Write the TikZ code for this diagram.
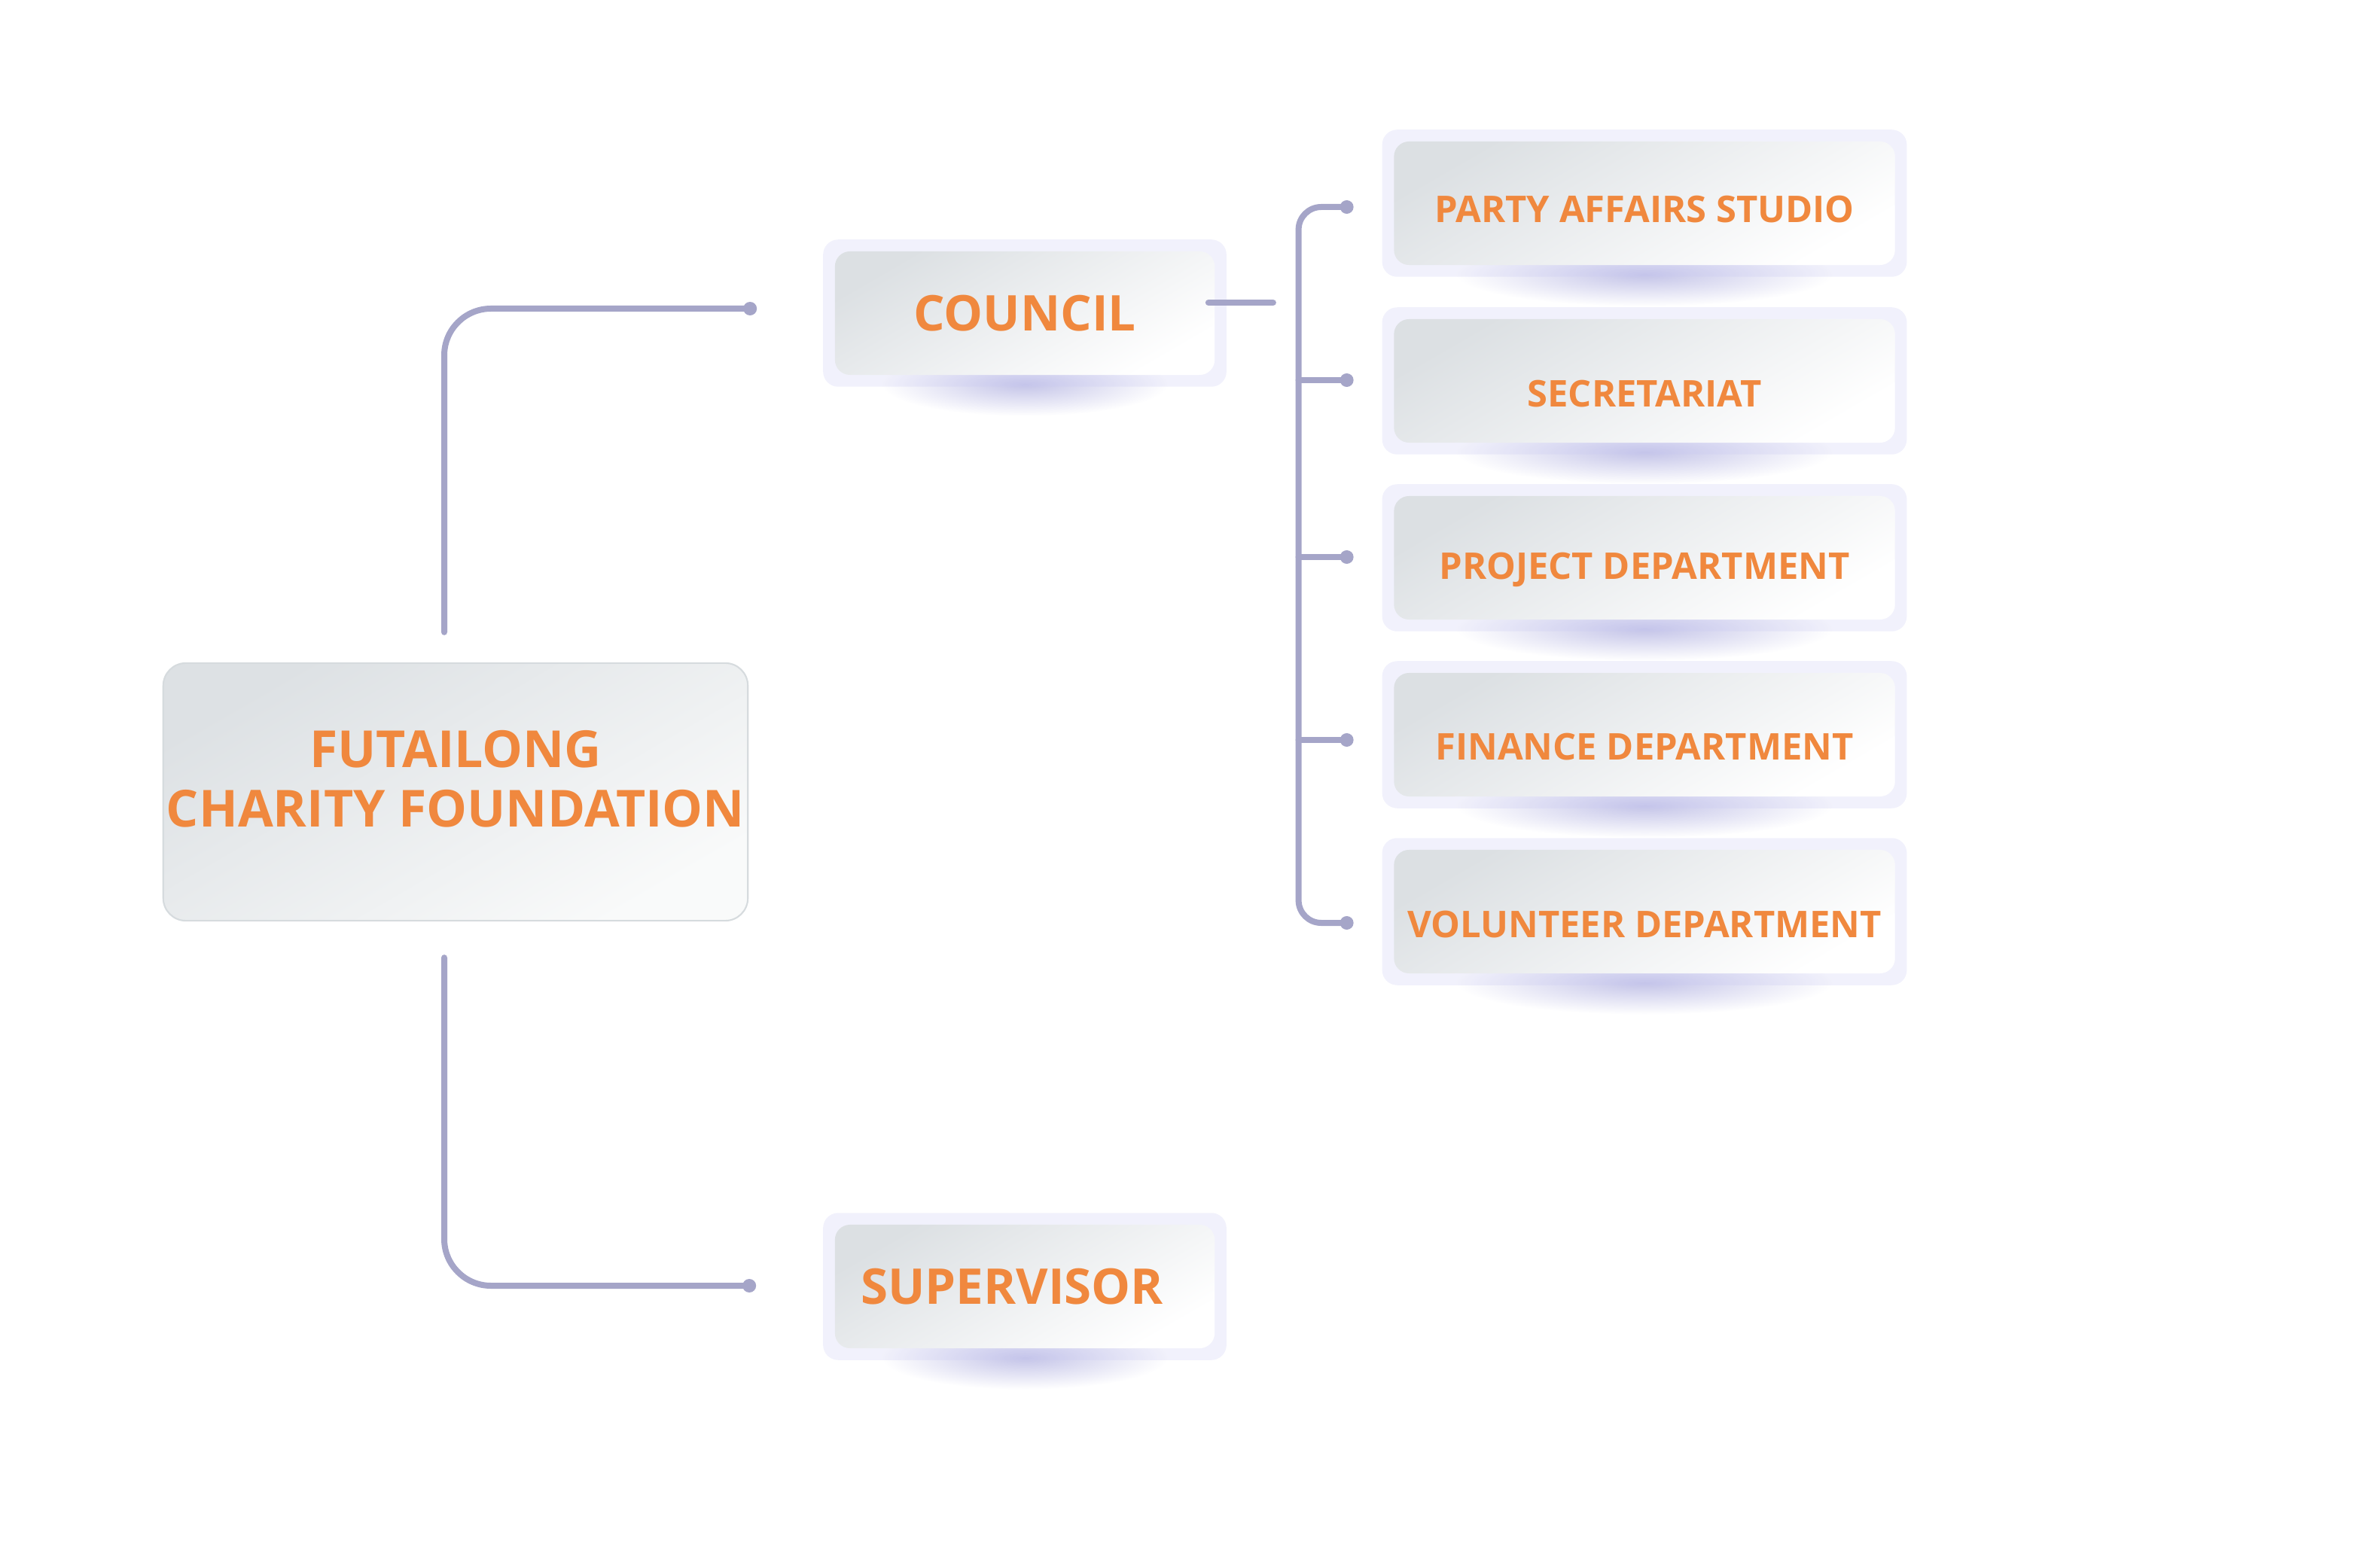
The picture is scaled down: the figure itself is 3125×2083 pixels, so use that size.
\documentclass[tikz,border=0pt]{standalone}
\usepackage{fontspec}
\setmainfont{Open Sans}
\usetikzlibrary{calc, backgrounds, positioning}

\definecolor{LabelOrange}{RGB}{240,136,62}
\definecolor{LinkLilac}{RGB}{165,165,200}
\definecolor{FrameLilac}{RGB}{200,200,242}
\definecolor{ShadowLilac}{RGB}{196,196,232}
\definecolor{BoxGrey}{RGB}{220,224,227}
\definecolor{RootGrey}{RGB}{221,225,228}
\definecolor{RootLight}{RGB}{249,250,250}
\definecolor{RootEdge}{RGB}{214,219,222}

\tikzset{
  link/.style={draw=LinkLilac, line width=0.08cm, line cap=round},
  knob/.style={fill=LinkLilac},
  card/.style={rounded corners=0.2cm, inner sep=0pt, top color=BoxGrey,
               bottom color=white, shading angle=30, text=LabelOrange},
  deptcard/.style={card, minimum width=6.65cm, minimum height=1.64cm,
                   font=\bfseries\fontsize{13.9}{16}\selectfont},
  headcard/.style={card, minimum width=5.04cm, minimum height=1.64cm,
                   font=\bfseries\fontsize{18.6}{22}\selectfont},
  rootcard/.style={card, rounded corners=0.3cm, minimum width=7.76cm,
                   minimum height=3.42cm, draw=RootEdge, line width=0.6pt,
                   top color=RootGrey, bottom color=RootLight, shading angle=30,
                   align=center, font=\bfseries\fontsize{19.3}{22.5}\selectfont},
}

\begin{document}
\begin{tikzpicture}[x=0.01cm, y=-0.01cm]
  \useasboundingbox (0,0) rectangle (3125,2083);

  % main boxes
  \node[rootcard, text depth=0.36cm] (root) at (605,1052) {FUTAILONG\\CHARITY FOUNDATION};
  \node[headcard] (council) at (1361,416) {COUNCIL};
  \node[headcard] (supervisor) at (1361,1709) {SUPERVISOR\kern0.34cm};

  % departments under the council
  \foreach \n/\ypos/\th/\txt in {party/270/0.51cm/PARTY AFFAIRS STUDIO,
      secretariat/506/0.69cm/SECRETARIAT, project/741/0.67cm/PROJECT DEPARTMENT,
      finance/976/0.67cm/FINANCE DEPARTMENT, volunteer/1211/0.69cm/VOLUNTEER DEPARTMENT}
    \node[deptcard, text height=\th] (\n) at (2184,\ypos) {\txt};

  % shadows and frames
  \begin{scope}[on background layer]
    \foreach \n/\rx in {council/1.9cm, supervisor/1.9cm, party/2.5cm, secretariat/2.5cm,
        project/2.5cm, finance/2.5cm, volunteer/2.5cm}
      \shade[inner color=ShadowLilac, outer color=white]
        ($(\n.south)+(0,12)$) ellipse [x radius=\rx, y radius=0.42cm];
    \foreach \n in {council, supervisor, party, secretariat, project, finance, volunteer}
      \fill[FrameLilac, opacity=0.25, rounded corners=0.2cm]
        ($(\n.south west)+(-15,15)$) rectangle ($(\n.north east)+(15,-15)$);
  \end{scope}

  % root to council and supervisor
  \coordinate (up) at ($(root.north)+(-15,-40)$);
  \coordinate (down) at ($(root.south)+(-15,48)$);
  \coordinate (council-tap) at ($(council.west)+(-112,-6)$);
  \coordinate (supervisor-tap) at ($(supervisor.west)+(-113,-1)$);
  \draw[link, rounded corners=0.62cm] (up) |- (council-tap);
  \draw[link, rounded corners=0.62cm] (down) |- (supervisor-tap);
  \fill[knob] (council-tap) circle[radius=0.09cm];
  \fill[knob] (supervisor-tap) circle[radius=0.09cm];

  % council to departments
  \draw[link] ($(council.east)+(-9,-14)$) -- ($(council.east)+(77,-14)$);
  \foreach \n/\dy in {party/5, secretariat/-1, project/-1, finance/7, volunteer/15}
    \coordinate (\n-tap) at ($(\n.west)+(-62,\dy)$);
  \coordinate (spine) at ($(party-tap)+(-64,0)$);
  \draw[link, rounded corners=0.3cm] (party-tap) -| (spine |- volunteer-tap) -- (volunteer-tap);
  \foreach \n in {secretariat, project, finance}
    \draw[link] (spine |- \n-tap) -- (\n-tap);
  \foreach \n in {party, secretariat, project, finance, volunteer}
    \fill[knob] (\n-tap) circle[radius=0.09cm];
\end{tikzpicture}
\end{document}
